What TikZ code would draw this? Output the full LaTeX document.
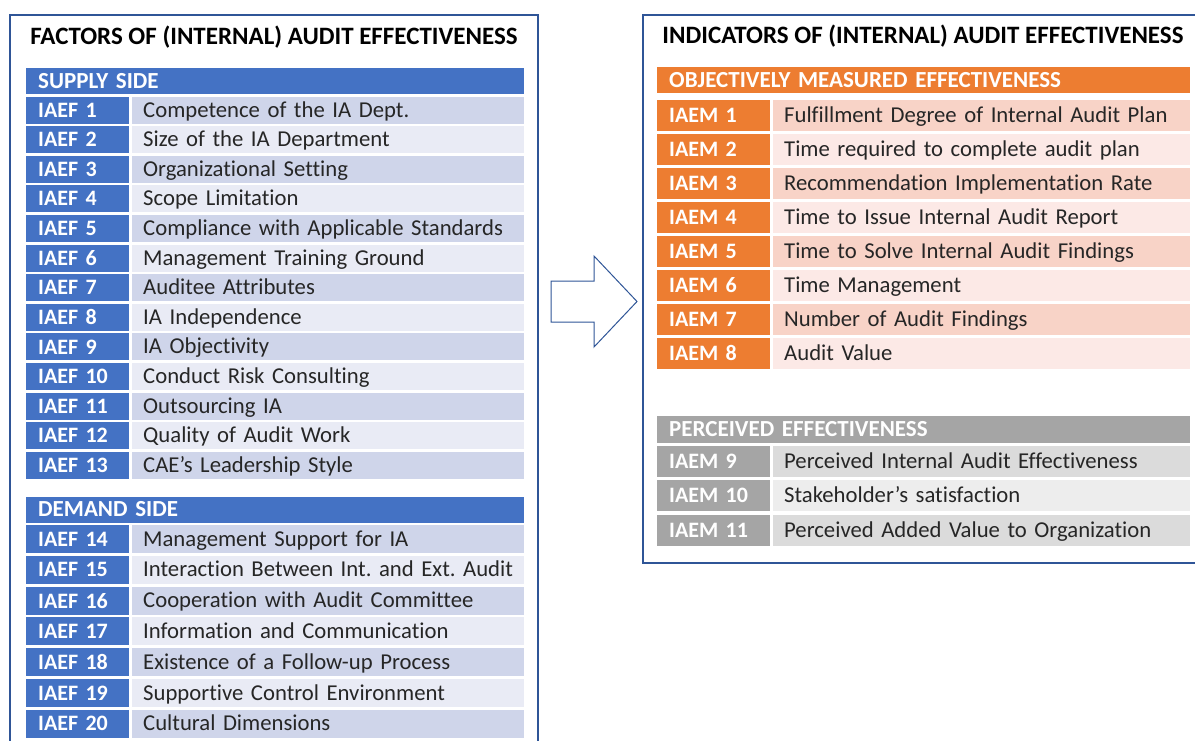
\documentclass[tikz,border=0pt]{standalone}
\usepackage{fontspec}
\setmainfont{Carlito}[Ligatures=NoCommon]
\usetikzlibrary{positioning}
\frenchspacing
\definecolor{frameblue}{HTML}{2F5597}
\definecolor{iablue}{HTML}{4472C4}
\definecolor{bluedark}{HTML}{CFD5EA}
\definecolor{bluelight}{HTML}{E9EBF5}
\definecolor{iaorange}{HTML}{ED7D31}
\definecolor{orangedark}{HTML}{F8D3C7}
\definecolor{orangelight}{HTML}{FCE9E6}
\definecolor{iagray}{HTML}{A5A5A5}
\definecolor{graydark}{HTML}{DBDBDB}
\definecolor{graylight}{HTML}{EDEDED}
\definecolor{rowtext}{HTML}{262626}
\tikzset{
  title/.style={font=\fontsize{25}{29}\selectfont\bfseries, text=black, inner sep=0pt},
  header/.style={anchor=west, text=white, font=\fontsize{23}{27}\selectfont\bfseries,
    inner xsep=12pt, inner ysep=0pt, align=left},
  lbl/.style={anchor=west, text=white, font=\fontsize{22}{26}\selectfont\bfseries,
    inner xsep=12pt, inner ysep=0pt, align=left},
  item/.style={anchor=west, text=rowtext, font=\fontsize{22.7}{26}\selectfont,
    inner xsep=11pt, inner ysep=0pt, text height=18pt, text depth=4pt, align=left}
}
\begin{document}
\begin{tikzpicture}[x=1pt,y=-1pt]
  \useasboundingbox (0,0) rectangle (1195,740);
  \draw[frameblue, line width=1.5pt] (10,745) -- (10,15) -- (538,15) -- (538,745);
  \draw[frameblue, line width=1.5pt] (1200,15) -- (643,15) -- (643,563) -- (1200,563);
  \node[title] (ftitle) at (274,37) {FACTORS OF (INTERNAL) AUDIT EFFECTIVENESS};
  \node[title] (mtitle) at (923,36) {INDICATORS OF (INTERNAL) AUDIT EFFECTIVENESS};

  \node[header, fill=iablue, minimum height=26pt, text width=474pt] (supply) at (26,81) {SUPPLY SIDE};
  \foreach \i/\t in {1/Competence of the IA Dept., 2/Size of the IA Department,
      3/Organizational Setting, 4/Scope Limitation, 5/Compliance with Applicable Standards,
      6/Management Training Ground, 7/Auditee Attributes, 8/IA Independence,
      9/IA Objectivity, 10/Conduct Risk Consulting, 11/Outsourcing IA,
      12/Quality of Audit Work, 13/CAE’s Leadership Style} {
    \pgfmathsetmacro{\y}{110+(\i-1)*29.6}
    \ifodd\i\def\rc{bluedark}\else\def\rc{bluelight}\fi
    \node[lbl, fill=iablue, minimum height=27pt, text width=79pt] (f\i) at (26,\y) {IAEF \i};
    \node[item, fill=\rc, minimum height=27pt, text width=370pt] (ft\i) at (132,\y) {\t};
  }

  \node[header, fill=iablue, minimum height=26pt, text width=474pt] (demand) at (26,509.5) {DEMAND SIDE};
  \foreach \i/\t in {14/Management Support for IA, 15/Interaction Between Int. and Ext. Audit,
      16/Cooperation with Audit Committee, 17/Information and Communication,
      18/Existence of a Follow-up Process, 19/Supportive Control Environment,
      20/Cultural Dimensions} {
    \pgfmathsetmacro{\y}{539+(\i-14)*30.8}
    \ifodd\i\def\rc{bluelight}\else\def\rc{bluedark}\fi
    \node[lbl, fill=iablue, minimum height=28pt, text width=79pt] (f\i) at (26,\y) {IAEF \i};
    \node[item, fill=\rc, minimum height=28pt, text width=370pt] (ft\i) at (132,\y) {\t};
  }

  \draw[frameblue, line width=1pt, fill=white] (551,281) -- (594,281) -- (594,256) -- (637,301.5)
    -- (594,347) -- (594,322) -- (551,322) -- cycle;

  \node[header, fill=iaorange, minimum height=26pt, text width=509pt] (objective) at (657,80) {OBJECTIVELY MEASURED EFFECTIVENESS};
  \foreach \i/\t in {1/Fulfillment Degree of Internal Audit Plan, 2/Time required to complete audit plan,
      3/Recommendation Implementation Rate, 4/Time to Issue Internal Audit Report,
      5/Time to Solve Internal Audit Findings, 6/Time Management,
      7/Number of Audit Findings, 8/Audit Value} {
    \pgfmathsetmacro{\y}{115+(\i-1)*34}
    \ifodd\i\def\rc{orangedark}\else\def\rc{orangelight}\fi
    \node[lbl, fill=iaorange, minimum height=31pt, text width=89pt] (m\i) at (657,\y) {IAEM \i};
    \node[item, fill=\rc, minimum height=31pt, text width=395pt] (mt\i) at (773,\y) {\t};
  }

  \node[header, fill=iagray, minimum height=27pt, text width=509pt] (perceived) at (657,429.5) {PERCEIVED EFFECTIVENESS};
  \foreach \i/\t in {9/Perceived Internal Audit Effectiveness, 10/Stakeholder’s satisfaction,
      11/Perceived Added Value to Organization} {
    \pgfmathsetmacro{\y}{461+(\i-9)*34.5}
    \ifodd\i\def\rc{graydark}\else\def\rc{graylight}\fi
    \node[lbl, fill=iagray, minimum height=31pt, text width=89pt] (m\i) at (657,\y) {IAEM \i};
    \node[item, fill=\rc, minimum height=31pt, text width=395pt] (mt\i) at (773,\y) {\t};
  }
\end{tikzpicture}
\end{document}
